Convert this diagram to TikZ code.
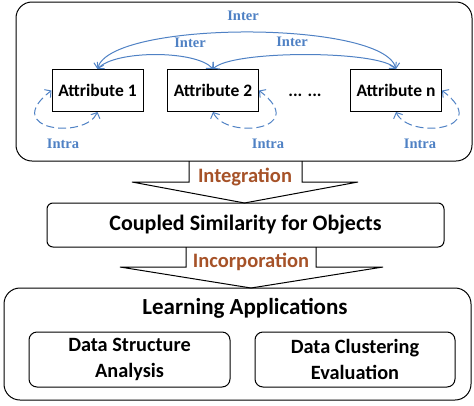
\documentclass[tikz,border=0pt]{standalone}
\usepackage{fontspec}
\setmainfont{Carlito}
\newfontfamily\labfont{Liberation Serif}
\usetikzlibrary{arrows.meta}
\definecolor{relblue}{RGB}{79,129,196}
\definecolor{stepbrown}{RGB}{166,82,40}

\begin{document}
\begin{tikzpicture}
  [x=1pt,y=-1pt,line width=1pt,
   attr/.style={draw,minimum width=91pt,minimum height=42pt,inner sep=0pt,font=\bfseries\fontsize{17.5}{19}\selectfont},
   rel/.style={relblue,line width=1pt,{Straight Barb[length=4.5pt,width=10pt]}-{Straight Barb[length=4.5pt,width=10pt]}},
   lab/.style={text=relblue,font=\labfont\bfseries\fontsize{14.5}{16}\selectfont},
   stage/.style={text=stepbrown,font=\bfseries\fontsize{20.5}{22}\selectfont},
   title/.style={font=\bfseries\fontsize{22}{24}\selectfont,align=center},
   appbox/.style={draw,rounded corners=8pt,minimum height=55pt,align=center,font=\bfseries\fontsize{20.3}{26}\selectfont}]
  \useasboundingbox (0,0) rectangle (474,405);

  % attribute level
  \draw[rounded corners=16pt] (16,2) rectangle (472,161);
  \node[attr] (a1) at (97.5,90.5) {Attribute 1};
  \node[attr] (a2) at (213,90.5) {Attribute 2};
  \node[attr] (an) at (396,90.5) {Attribute n};
  \node[font=\bfseries\fontsize{17.5}{19}\selectfont] (dots) at (305,95) {... ...};

  % inter-coupled
  \draw[rel] (a1.north) .. controls (110,20) and (384,20) .. (an.north);
  \draw[rel] (a1.north) .. controls (115,50) and (196,50) .. (a2.north);
  \draw[rel] (a2.north) .. controls (232,50) and (379,50) .. (an.north);
  \node[lab] (i1) at (243,16) {Inter};
  \node[lab] (i2) at (190,43) {Inter};
  \node[lab] (i3) at (292,42) {Inter};

  % intra-coupled
  \draw[rel,dash pattern=on 8pt off 4pt] (a1.south) .. controls (85,140) and (0,130) .. (a1.west);
  \draw[rel,dash pattern=on 8pt off 4pt] (a2.south) .. controls (226,140) and (311,130) .. (a2.east);
  \draw[rel,dash pattern=on 8pt off 4pt] (an.south) .. controls (409,140) and (494,130) .. (an.east);
  \node[lab] (r1) at (63,144) {Intra};
  \node[lab] (r2) at (268,144) {Intra};
  \node[lab] (rn) at (420,144) {Intra};

  % object level
  \draw (189,161) -- (189,182) -- (132,182) -- (244.5,203) -- (358,182) -- (302,182) -- (302,161);
  \node[stage] (integ) at (245,177) {Integration};
  \node[draw,rounded corners=6pt,minimum width=397pt,minimum height=44pt,title] (cs) at (245.5,225) {Coupled Similarity for Objects};
  \draw (186,247) -- (186,267) -- (120,267) -- (251,288) -- (383,267) -- (316,267) -- (316,247);
  \node[stage] (incorp) at (251,262) {Incorporation};

  % application level
  \draw[rounded corners=16pt] (4,288) rectangle (471,400);
  \node[title,font=\bfseries\fontsize{23}{25}\selectfont] (learn) at (245,308) {Learning Applications};
  \node[appbox,minimum width=201pt] (dsa) at (129.5,359.5) {Data Structure\\Analysis};
  \node[appbox,minimum width=200pt] (dce) at (355,359.5) {Data Clustering\\Evaluation};
\end{tikzpicture}
\end{document}
